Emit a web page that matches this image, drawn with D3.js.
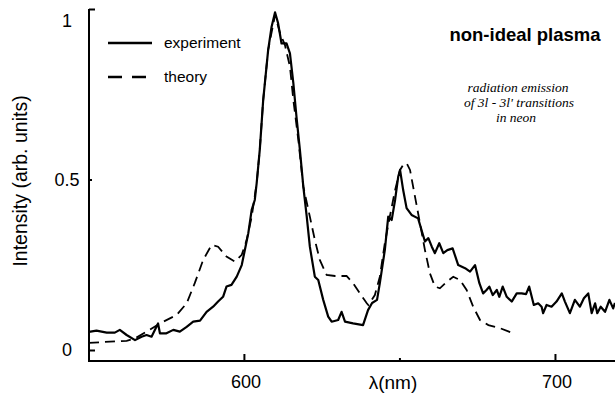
<!DOCTYPE html>
<html><head><meta charset="utf-8">
<script src="https://cdn.jsdelivr.net/npm/d3@7"></script>
<style>
body{margin:0;background:#fff;}
svg{display:block;font-family:"Liberation Sans",Arial,sans-serif;}
</style></head>
<body><svg id="c" width="615" height="398"></svg>
<script>
const expLambda=[550.2,552.6,555.9,558.5,560.1,562.3,565.0,567.1,568.7,570.3,572.4,573.0,575.1,577.3,579.4,581.6,583.7,585.9,588.0,590.1,591.7,593.3,594.4,596.0,597.7,599.3,600.3,601.4,602.5,603.5,604.1,605.1,606.2,607.8,608.9,610.0,611.0,612.1,613.7,614.8,615.9,616.9,618.0,619.1,620.2,621.2,622.8,623.9,625.5,627.1,628.2,630.3,631.4,632.5,635.1,638.3,639.9,641.2,642.8,643.7,645.3,646.4,647.5,648.6,649.6,650.2,651.2,652.3,653.9,656.0,657.1,658.2,659.3,660.4,661.4,662.8,664.1,665.4,667.1,668.9,671.1,672.7,674.3,675.7,676.9,678.0,678.9,680.0,681.3,682.1,683.2,684.5,686.1,687.7,689.3,690.7,691.7,693.2,694.6,695.7,696.2,697.3,698.9,700.5,702.2,703.2,704.8,706.4,708.0,709.3,710.7,711.8,712.9,713.6,714.7,716.1,717.5,718.7,719.3];
const expIntensity=[0.053,0.057,0.051,0.051,0.059,0.044,0.029,0.039,0.044,0.039,0.078,0.049,0.049,0.059,0.054,0.068,0.083,0.086,0.112,0.127,0.142,0.156,0.186,0.191,0.215,0.249,0.293,0.342,0.411,0.440,0.489,0.587,0.733,0.880,0.948,0.990,0.958,0.899,0.899,0.870,0.782,0.684,0.587,0.479,0.391,0.303,0.215,0.205,0.147,0.098,0.083,0.088,0.112,0.083,0.078,0.073,0.117,0.138,0.147,0.196,0.293,0.391,0.381,0.440,0.508,0.528,0.469,0.416,0.396,0.386,0.352,0.318,0.328,0.303,0.284,0.313,0.284,0.293,0.298,0.249,0.240,0.230,0.249,0.196,0.166,0.176,0.186,0.161,0.176,0.156,0.186,0.156,0.142,0.166,0.166,0.164,0.186,0.132,0.137,0.127,0.108,0.132,0.127,0.142,0.166,0.142,0.108,0.147,0.127,0.152,0.166,0.108,0.137,0.108,0.127,0.112,0.147,0.122,0.138];
const thLambda=[550.2,562.3,565.0,568.7,573.0,578.4,581.6,584.2,586.9,589.6,591.7,594.4,597.1,599.3,600.9,602.5,604.1,605.1,606.2,607.8,610.0,611.6,613.2,614.8,615.9,617.5,619.1,621.2,622.8,624.4,626.6,629.3,633.0,635.1,637.3,639.5,640.0,642.1,643.7,645.3,646.9,648.6,650.2,651.2,652.3,653.4,655.0,656.6,658.2,659.8,661.4,663.0,665.2,667.3,669.5,671.6,673.7,675.9,678.6,682.3,686.6];
const thIntensity=[0.021,0.027,0.034,0.054,0.078,0.103,0.137,0.196,0.264,0.308,0.303,0.274,0.259,0.279,0.323,0.391,0.489,0.587,0.733,0.880,0.982,0.930,0.894,0.831,0.733,0.616,0.479,0.391,0.323,0.264,0.220,0.217,0.217,0.196,0.166,0.137,0.132,0.161,0.215,0.313,0.391,0.469,0.528,0.543,0.548,0.528,0.450,0.372,0.293,0.225,0.186,0.181,0.200,0.215,0.205,0.176,0.127,0.088,0.073,0.064,0.049];
const xMajorTicks=[600,700];
const xMinorTicks=[650];
const yTicks=[0,0.5,1];
const yTickLabels=["0","0.5","1"];
const legendLabels=["experiment","theory"];
const titleText="non-ideal plasma";
const noteLines=["radiation emission","of 3l - 3l' transitions","in neon"];

const svg=d3.select("#c");
const x=d3.scaleLinear().domain([550.2,719.3]).range([89,615]);
const y=d3.scaleLinear().domain([0,1]).range([350,9]);
const axisY=361;

// axes lines
svg.append("line").attr("x1",89).attr("x2",89).attr("y1",y(1)).attr("y2",axisY+1).attr("stroke","#000").attr("stroke-width",2);
svg.append("line").attr("x1",88).attr("x2",615).attr("y1",axisY).attr("y2",axisY).attr("stroke","#000").attr("stroke-width",2);

// y ticks
const yAxis=d3.axisLeft(y).tickValues(yTicks).tickSize(-6).tickFormat("");
const gy=svg.append("g").attr("transform","translate(89,0)").call(yAxis);
gy.select(".domain").remove();
gy.selectAll(".tick line").attr("stroke","#000").attr("stroke-width",2).attr("x2",d=>d===0.5?3:6);
yTicks.forEach((v,i)=>{
  svg.append("text").attr("x",67).attr("y",y(v)+(v===1?12:0)).attr("dy","0.35em")
    .attr("text-anchor","middle").attr("font-size",18).text(yTickLabels[i]);
});

// x ticks
const xAxis=d3.axisBottom(x).tickValues(xMajorTicks.concat(xMinorTicks)).tickSize(-6).tickFormat("");
const gx=svg.append("g").attr("transform",`translate(0,${axisY})`).call(xAxis);
gx.select(".domain").remove();
gx.selectAll(".tick line").attr("stroke","#000").attr("stroke-width",2).attr("y2",d=>xMinorTicks.includes(d)?-3:-7);
xMajorTicks.forEach(v=>{
  svg.append("text").attr("x",x(v)+2).attr("y",388).attr("text-anchor","middle").attr("font-size",18).text(v);
});
svg.append("text").attr("x",393).attr("y",389).attr("text-anchor","middle").attr("font-size",19).text("λ(nm)");

// y label
svg.append("text").attr("transform","translate(27,181) rotate(-90)").attr("text-anchor","middle").attr("font-size",19.5).text("Intensity (arb. units)");

// curves
const line=d3.line().x(d=>x(d[0])).y(d=>y(d[1]));
svg.append("path").datum(thLambda.map((l,i)=>[l,thIntensity[i]])).attr("d",line)
  .attr("fill","none").attr("stroke","#000").attr("stroke-width",1.8).attr("stroke-dasharray","10,6");
svg.append("path").datum(expLambda.map((l,i)=>[l,expIntensity[i]])).attr("d",line)
  .attr("fill","none").attr("stroke","#000").attr("stroke-width",2.2).attr("stroke-linejoin","round");

// legend
svg.append("line").attr("x1",108).attr("x2",152).attr("y1",43).attr("y2",43).attr("stroke","#000").attr("stroke-width",2.5);
svg.append("line").attr("x1",108).attr("x2",146).attr("y1",77).attr("y2",77).attr("stroke","#000").attr("stroke-width",2.5).attr("stroke-dasharray","14,10");
svg.append("text").attr("x",164).attr("y",48).attr("font-size",15.5).text(legendLabels[0]);
svg.append("text").attr("x",164).attr("y",82).attr("font-size",15.5).text(legendLabels[1]);

// annotations
svg.append("text").attr("x",525).attr("y",41).attr("text-anchor","middle").attr("font-size",18.5).attr("font-weight","bold").text(titleText);
const noteY=[92,107,122];
const noteX=[518,519,516];
noteLines.forEach((t,i)=>{
  svg.append("text").attr("x",noteX[i]).attr("y",noteY[i]).attr("text-anchor","middle")
    .attr("font-family","'Liberation Serif','Times New Roman',serif").attr("font-style","italic").attr("font-size",13.5).text(t);
});
</script></body></html>
